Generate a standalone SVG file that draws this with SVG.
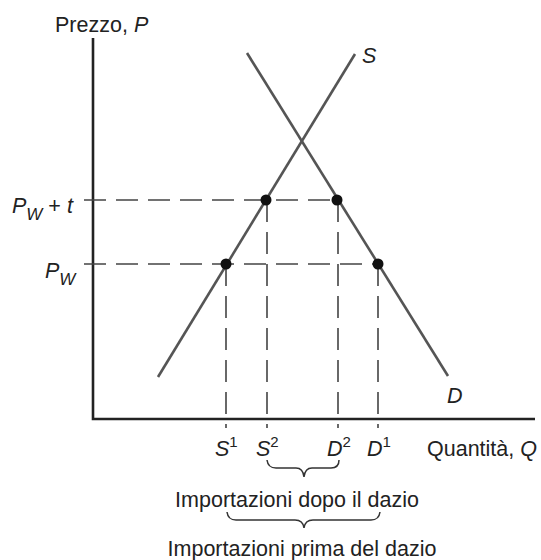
<svg xmlns="http://www.w3.org/2000/svg" width="541" height="560" viewBox="0 0 541 560">
<style>
text{font-family:"Liberation Sans",Arial,sans-serif;font-size:21.5px;fill:#222}
.it{font-style:italic}
.curve{stroke:#555;stroke-width:2.6;fill:none}
.axis{stroke:#222;stroke-width:2.6;fill:none}
.dash{stroke:#444;stroke-width:1.6;stroke-dasharray:22 10;fill:none}
.brace{stroke:#333;stroke-width:1.5;fill:none}
.dot{fill:#111}
.sup{font-style:normal;font-size:15px}
.sub{font-size:17px}
</style>
<rect width="541" height="560" fill="#fff"/>
<g id="axes">
<path class="axis" d="M93,38 L93,419 L535,419"/>
<text x="55" y="32">Prezzo, <tspan class="it">P</tspan></text>
<text x="427" y="456">Quantità, <tspan class="it">Q</tspan></text>
</g>
<g id="connectors">
<path class="dash" d="M84,200 L338,200"/>
<path class="dash" d="M84,264 L378,264"/>
<path class="dash" d="M226,264 L226,428"/>
<path class="dash" d="M267,200 L267,428"/>
<path class="dash" d="M338,200 L338,428"/>
<path class="dash" d="M378,264 L378,428"/>
</g>
<g id="supply">
<line class="curve" x1="158" y1="377" x2="355" y2="54"/>
<text class="it" x="362" y="63">S</text>
</g>
<g id="demand">
<line class="curve" x1="247" y1="53" x2="448" y2="376"/>
<text class="it" x="447" y="403">D</text>
</g>
<g id="points">
<circle class="dot" cx="266" cy="200" r="5.5"/>
<circle class="dot" cx="337" cy="200" r="5.5"/>
<circle class="dot" cx="226" cy="264" r="5.5"/>
<circle class="dot" cx="378" cy="264" r="5.5"/>
</g>
<g id="ylabels">
<text class="it" x="12" y="213">P<tspan class="sub" dy="7">W</tspan><tspan dy="-7" font-style="normal"> + </tspan>t</text>
<text class="it" x="45" y="278">P<tspan class="sub" dy="7">W</tspan></text>
</g>
<g id="xlabels">
<text class="it" x="215" y="456">S<tspan class="sup" dy="-9">1</tspan></text>
<text class="it" x="256" y="456">S<tspan class="sup" dy="-9">2</tspan></text>
<text class="it" x="327" y="456">D<tspan class="sup" dy="-9">2</tspan></text>
<text class="it" x="367" y="456">D<tspan class="sup" dy="-9">1</tspan></text>
</g>
<g id="brace-after">
<path class="brace" d="M267,460 Q268,468 276,468 L296,468 Q303,468 304,477 Q305,468 312,468 L331,468 Q339,468 339,460"/>
<text x="297" y="507" text-anchor="middle">Importazioni dopo il dazio</text>
</g>
<g id="brace-before">
<path class="brace" d="M227,512 Q228,520 236,520 L295,520 Q303,520 304,528 Q305,520 313,520 L371,520 Q379,520 380,512"/>
<text x="302" y="556" text-anchor="middle">Importazioni prima del dazio</text>
</g>
</svg>
